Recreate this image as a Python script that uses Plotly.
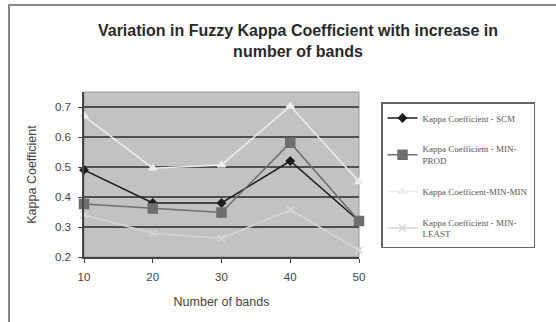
import plotly.graph_objects as go

bands = [10, 20, 30, 40, 50]
kappa_scm = [0.49, 0.38, 0.38, 0.52, 0.32]
kappa_min_prod = [0.377, 0.362, 0.348, 0.581, 0.32]
kappa_min_min = [0.67, 0.496, 0.507, 0.703, 0.451]
kappa_min_least = [0.34, 0.279, 0.262, 0.357, 0.223]

names = [
    "Kappa Coefficient - SCM",
    "Kappa Coefficient - MIN-<br>PROD",
    "Kappa Coefficent-MIN-MIN",
    "Kappa Coefficient - MIN-<br>LEAST",
]
series = [kappa_scm, kappa_min_prod, kappa_min_min, kappa_min_least]
colors = ["#1e1e1e", "#6e6e6e", "#ececec", "#d6d6d6"]
symbols = ["diamond", "square", "triangle-up", "x-thin"]
sizes = [6, 9, 7, 7]

fig = go.Figure()
for i, (nm, ys) in enumerate(zip(names, series)):
    fig.add_trace(go.Scatter(
        x=bands, y=ys, name=nm, mode="lines+markers",
        line=dict(color=colors[i], width=1.5),
        marker=dict(symbol=symbols[i], size=sizes[i], color=colors[i],
                    line=dict(color=colors[i], width=1.5)),
        legendgroup=f"g{i}", cliponaxis=False,
    ))

fig.update_layout(
    width=556, height=322,
    margin=dict(l=84, r=197, t=92, b=65),
    paper_bgcolor="white",
    plot_bgcolor="#c2c2c2",
    font=dict(family="Liberation Sans, Arial", color="#444", size=11.5),
    title=dict(
        text="<b>Variation in Fuzzy Kappa Coefficient with increase in<br>number of bands</b>",
        x=298/556, xref="container", xanchor="center",
        y=1 - 36/322, yref="container", yanchor="middle",
        font=dict(size=16, color="#2a2a2a", family="Liberation Sans, Arial"),
    ),
    showlegend=True,
    legend=dict(
        x=(381-84)/275, xanchor="left", y=(257-102)/165, yanchor="top",
        bgcolor="white", bordercolor="#666", borderwidth=1.5,
        font=dict(family="Liberation Serif, Times New Roman", size=9, color="#555"),
        tracegroupgap=14, itemwidth=30,
    ),
    xaxis=dict(
        range=[10, 50], tickvals=bands, ticktext=[str(b) for b in bands],
        showgrid=False, zeroline=False,
        showline=True, linecolor="#444", linewidth=1.5,
        ticks="outside", ticklen=4, tickcolor="#444", ticklabelstandoff=4,
        title=dict(text="Number of bands", font=dict(size=12.5, color="#444"), standoff=16),
    ),
    yaxis=dict(
        range=[0.2, 0.75], tickvals=[0.2, 0.3, 0.4, 0.5, 0.6, 0.7],
        ticktext=["0.2", "0.3", "0.4", "0.5", "0.6", "0.7"],
        showgrid=True, gridcolor="#505050", gridwidth=2, zeroline=False,
        showline=True, linecolor="#444", linewidth=1.5,
        ticks="outside", ticklen=4, tickcolor="#444", ticklabelstandoff=5,
        title=dict(text="Kappa Coefficient", font=dict(size=12.5, color="#444"), standoff=16),
    ),
    shapes=[
        dict(type="rect", xref="paper", yref="paper",
             x0=(9-84)/275, x1=(570-84)/275, y0=(257-340)/165, y1=(257-5)/165,
             line=dict(color="#888", width=2), fillcolor="rgba(0,0,0,0)", layer="below"),
        dict(type="rect", xref="paper", yref="paper", x0=0, x1=1, y0=0, y1=1,
             line=dict(color="#999", width=1), fillcolor="rgba(0,0,0,0)", layer="below"),
    ],
)

fig.write_html("out.html", config={"displayModeBar": False},
               post_script="document.body.style.margin='0';")
